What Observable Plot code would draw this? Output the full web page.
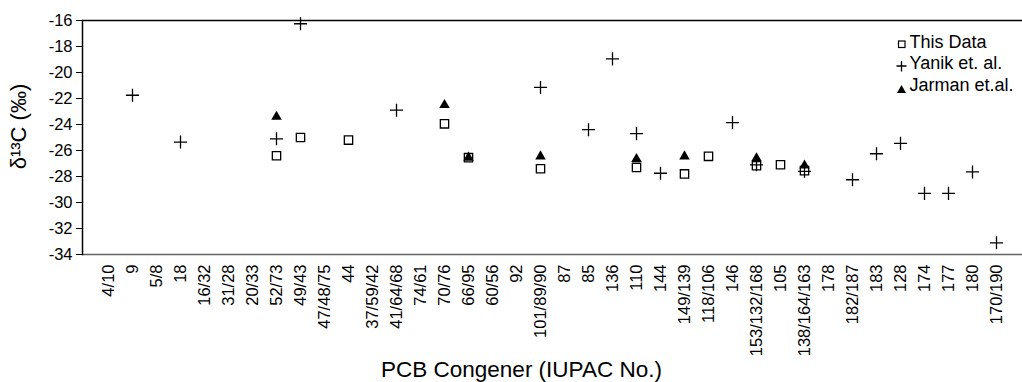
<!DOCTYPE html>
<html>
<head>
<meta charset="utf-8">
<script src="https://cdn.jsdelivr.net/npm/d3@7"></script>
<script src="https://cdn.jsdelivr.net/npm/@observablehq/plot@0.6"></script>
<style>
  html, body { margin: 0; padding: 0; background: white; }
  #wrap { position: relative; width: 1022px; height: 382px; font-family: "Liberation Sans", Arial, sans-serif; }
  #legend { position: absolute; left: 880px; top: 25px; width: 142px; height: 75px; }
</style>
</head>
<body>
<div id="wrap">
  <div id="chart"></div>
  <div id="legend"></div>
</div>
<script>
const categories = ["4/10","9","5/8","18","16/32","31/28","20/33","52/73","49/43","47/48/75","44","37/59/42","41/64/68","74/61","70/76","66/95","60/56","92","101/89/90","87","85","136","110","144","149/139","118/106","146","153/132/168","105","138/164/163","178","182/187","183","128","174","177","180","170/190"];

const thisData = [null,null,null,null,null,null,null,-26.4,-25.0,null,-25.2,null,null,null,-23.95,-26.55,null,null,-27.4,null,null,null,-27.3,null,-27.8,-26.45,null,-27.17,-27.1,-27.55,null,null,null,null,null,null,null,null];

const yanik = [null,-21.75,null,-25.35,null,null,null,-25.1,-16.25,null,null,null,-22.9,null,null,null,null,null,-21.15,null,-24.4,-18.95,-24.7,-27.75,null,null,-23.85,-27.1,null,-27.6,null,-28.25,-26.25,-25.45,-29.3,-29.3,-27.65,-33.1];

const jarman = [null,null,null,null,null,null,null,-23.4,null,null,null,null,null,null,-22.5,-26.55,null,null,-26.45,null,null,null,-26.65,null,-26.45,null,null,-26.6,null,-27.15,null,null,null,null,null,null,null,null];

const yTicks = [-34,-32,-30,-28,-26,-24,-22,-20,-18,-16];

const seriesNames = ["This Data", "Yanik et. al.", "Jarman et.al."];

const rows = (vals) => categories.map((c, i) => ({c, v: vals[i]})).filter(d => d.v != null);

const chart = Plot.plot({
  width: 1022,
  height: 382,
  marginLeft: 82,
  marginRight: 0,
  marginTop: 20,
  marginBottom: 128,
  style: { fontFamily: '"Liberation Sans", Arial, sans-serif', fontSize: "16px", color: "black", background: "white", overflow: "visible" },
  x: { type: "point", domain: categories, padding: 0.5, axis: null },
  y: { domain: [-34, -16], axis: null },
  marks: [
    Plot.axisX({ tickRotate: -90, tickSize: 0, tickPadding: 10, label: null, fontSize: 16.5, fill: "black" }),
    Plot.axisY({ ticks: yTicks, tickSize: 6, tickPadding: 4, label: null, fontSize: 16.5, fill: "black", stroke: "black", tickFormat: d => String(d) }),
    Plot.ruleY([-16], { stroke: "black", strokeWidth: 1.5 }),
    Plot.ruleY([-34], { stroke: "#666", strokeWidth: 1.5 }),
    Plot.frame({ anchor: "left", stroke: "black", strokeWidth: 1.5 }),
    Plot.dot(rows(thisData), { x: "c", y: "v", symbol: "square", r: 4.7, stroke: "black", fill: "none", strokeWidth: 1.3 }),
    Plot.dot(rows(yanik), { x: "c", y: "v", symbol: "plus", r: 4.3, stroke: "black", fill: "none", strokeWidth: 1.3 }),
    Plot.dot(rows(jarman), { x: "c", y: "v", symbol: "triangle", r: 3.9, fill: "black", stroke: "none" }),
    Plot.text(["PCB Congener (IUPAC No.)"], { frameAnchor: "bottom", text: d => d, dx: -31, dy: 115, lineAnchor: "middle", fontSize: 22.5, fill: "black" }),
    Plot.text(["δ¹³C (‰)"], { frameAnchor: "top-left", text: d => d, rotate: -90, dx: -64, dy: 106, lineAnchor: "middle", textAnchor: "middle", fontSize: 22, fill: "black" })
  ]
});
document.getElementById("chart").appendChild(chart);

// Legend (one small SVG placed over the top-right of the plot)
const symbols = [
  '<rect x="18.5" y="16" width="6.5" height="6.5" fill="none" stroke="black" stroke-width="1.2"/>',
  '<path d="M16.5 41 H26.5 M21.5 36 V46.5" stroke="black" stroke-width="1.3" fill="none"/>',
  '<path d="M21.5 60 L26 68 L17 68 Z" fill="black"/>'
];
const baselines = [47.5, 69, 90.5].map(b => b - 25);
let svg = '<svg width="142" height="75" viewBox="0 0 142 75" style="overflow:visible" font-family="Liberation Sans, Arial, sans-serif" font-size="18">';
seriesNames.forEach((name, i) => {
  svg += symbols[i] + `<text x="29.5" y="${baselines[i]}" fill="black">${name}</text>`;
});
svg += '</svg>';
document.getElementById("legend").innerHTML = svg;
</script>
</body>
</html>
